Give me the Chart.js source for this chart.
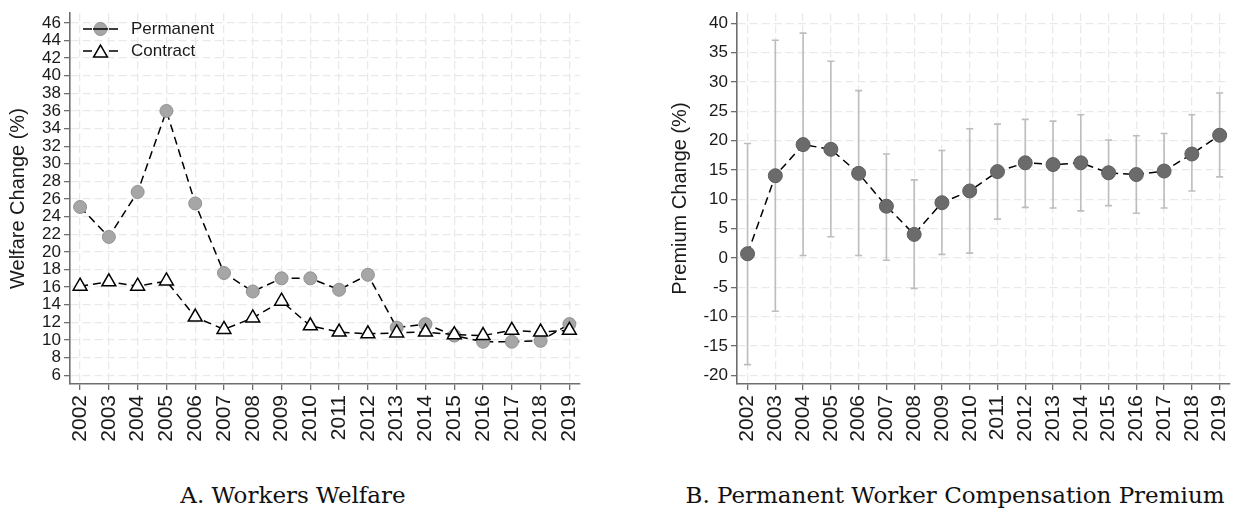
<!DOCTYPE html>
<html><head><meta charset="utf-8">
<script src="https://cdn.jsdelivr.net/npm/chart.js@4.4.1/dist/chart.umd.min.js"></script>
<style>
html,body{margin:0;padding:0;background:#fff;width:1250px;height:514px;overflow:hidden;position:relative}
canvas{position:absolute;top:0}
#c1{left:0}
#c2{left:620px}
.cap{position:absolute;top:482px;font-family:"DejaVu Serif",serif;font-size:23px;color:#111;white-space:nowrap;transform:translateX(-50%)}
</style></head><body>
<canvas id="c1" width="600" height="470"></canvas>
<canvas id="c2" width="630" height="470"></canvas>
<div class="cap" style="left:293px">A. Workers Welfare</div>
<div class="cap" style="left:955px">B. Permanent Worker Compensation Premium</div>
<script>
const years = [2002,2003,2004,2005,2006,2007,2008,2009,2010,2011,2012,2013,2014,2015,2016,2017,2018,2019];
const permanentWelfare = [25.1,21.7,26.8,36.0,25.5,17.6,15.5,17.0,17.0,15.7,17.4,11.4,11.8,10.5,9.8,9.8,9.9,11.8];
const contractWelfare  = [16.1,16.6,16.1,16.7,12.6,11.2,12.5,14.4,11.6,10.9,10.7,10.8,10.9,10.6,10.5,11.1,10.9,11.1];
const premium      = [0.7,14.0,19.3,18.5,14.4,8.8,4.0,9.4,11.4,14.7,16.2,15.9,16.2,14.5,14.2,14.8,17.7,20.9];
const premiumLower = [-18.2,-9.1,0.4,3.6,0.4,-0.4,-5.2,0.6,0.8,6.6,8.6,8.5,8.0,8.9,7.6,8.5,11.4,13.8];
const premiumUpper = [19.5,37.1,38.3,33.5,28.5,17.7,13.3,18.3,22.0,22.8,23.6,23.3,24.4,20.1,20.8,21.2,24.4,28.1];
const welfareTicks = [6,8,10,12,14,16,18,20,22,24,26,28,30,32,34,36,38,40,42,44,46];
const premiumTicks = [-20,-15,-10,-5,0,5,10,15,20,25,30,35,40];
const legendLabels = ['Permanent','Contract'];

const SANS = '"Liberation Sans", Arial, sans-serif';
const TXT = '#1a1a1a';
const GRID = '#e9e9e9';
const AXIS = '#6e6e6e';

function toPts(vals){ return years.map((y,i)=>({x:y,y:vals[i]})); }

function xScale(min,max){
  return {
    type:'linear', min:min, max:max,
    afterBuildTicks:s=>{ s.ticks = years.map(v=>({value:v})); },
    afterFit:s=>{ s.height = 86; },
    ticks:{ autoSkip:false, maxRotation:90, minRotation:90, padding:5, color:TXT,
            font:{family:SANS,size:21}, callback:v=>String(v) },
    grid:{ color:GRID, lineWidth:1.3, tickLength:6, tickColor:AXIS, tickWidth:1.3 },
    border:{ display:true, color:AXIS, width:1.6, dash:[8,4] }
  };
}
function yScale(min,max,tickVals,width,title,titlePad){
  return {
    type:'linear', min:min, max:max,
    afterBuildTicks:s=>{ s.ticks = tickVals.map(v=>({value:v})); },
    afterFit:s=>{ s.width = width; },
    ticks:{ autoSkip:false, padding:3, color:TXT, font:{family:SANS,size:17}, callback:v=>String(v) },
    grid:{ color:GRID, lineWidth:1.3, tickLength:6, tickColor:AXIS, tickWidth:1.3 },
    border:{ display:true, color:AXIS, width:1.6, dash:[8,4] },
    title:{ display:true, text:title, color:TXT, font:{family:SANS,size:20}, padding:{top:titlePad,bottom:0} }
  };
}

const legendPlugin = {
  id:'stataLegend',
  afterDatasetsDraw(chart){
    const ctx = chart.ctx;
    const rows = [
      {label:legendLabels[0], y:29, style:'circle'},
      {label:legendLabels[1], y:51, style:'triangle'}
    ];
    rows.forEach(r=>{
      ctx.save();
      ctx.strokeStyle = '#000'; ctx.lineWidth = 1.5; ctx.setLineDash([]);
      ctx.beginPath(); ctx.moveTo(83,r.y); ctx.lineTo(92,r.y); ctx.moveTo(109,r.y); ctx.lineTo(118,r.y); ctx.stroke();
      if (r.style==='circle'){
        ctx.fillStyle='#a6a6a6'; ctx.strokeStyle='#8f8f8f'; ctx.lineWidth=1;
        ctx.beginPath(); ctx.arc(100.5,r.y,6.5,0,Math.PI*2); ctx.fill(); ctx.stroke();
        ctx.strokeStyle='#000'; ctx.lineWidth=1.5;
        ctx.beginPath(); ctx.moveTo(93,r.y); ctx.lineTo(108,r.y); ctx.stroke();
      } else {
        ctx.fillStyle='#fff'; ctx.strokeStyle='#000'; ctx.lineWidth=1.5;
        Chart.helpers.drawPoint(ctx,{pointStyle:'triangle',radius:8,borderWidth:1.5},100.5,r.y+2);
      }
      ctx.fillStyle = TXT; ctx.font = '17px '+SANS; ctx.textBaseline='middle'; ctx.textAlign='left';
      ctx.fillText(r.label,131,r.y+0.5);
      ctx.restore();
    });
  }
};

const errorBarPlugin = {
  id:'errorBars',
  beforeDatasetsDraw(chart){
    const ctx = chart.ctx, xs = chart.scales.x, ys = chart.scales.y;
    ctx.save();
    ctx.strokeStyle = '#bdbdbd'; ctx.lineWidth = 1.6; ctx.setLineDash([]);
    years.forEach((yr,i)=>{
      const px = xs.getPixelForValue(yr);
      const lo = ys.getPixelForValue(premiumLower[i]);
      const hi = ys.getPixelForValue(premiumUpper[i]);
      ctx.beginPath();
      ctx.moveTo(px,lo); ctx.lineTo(px,hi);
      ctx.moveTo(px-3.5,lo); ctx.lineTo(px+3.5,lo);
      ctx.moveTo(px-3.5,hi); ctx.lineTo(px+3.5,hi);
      ctx.stroke();
    });
    ctx.restore();
  }
};

const common = { responsive:false, animation:false, devicePixelRatio:1,
  plugins:{ legend:{display:false}, tooltip:{enabled:false} } };

new Chart(document.getElementById('c1'),{
  type:'line',
  data:{ datasets:[
    { label:legendLabels[1], data:toPts(contractWelfare), order:0,
      borderColor:'#000', borderWidth:1.5, borderDash:[8,5], fill:false, tension:0,
      pointStyle:'triangle', pointRadius:8, pointBackgroundColor:'#fff', pointBorderColor:'#000', pointBorderWidth:1.5 },
    { label:legendLabels[0], data:toPts(permanentWelfare), order:1,
      borderColor:'#000', borderWidth:1.5, borderDash:[8,5], fill:false, tension:0,
      pointStyle:'circle', pointRadius:6.5, pointBackgroundColor:'#a6a6a6', pointBorderColor:'#919191', pointBorderWidth:1 }
  ]},
  options:Object.assign({}, common, {
    layout:{ padding:{ top:7, right:20, left:0, bottom:0 } },
    scales:{ x:xScale(2001.65,2019.35), y:yScale(5,47.1,welfareTicks,70,'Welfare Change (%)',6) }
  }),
  plugins:[legendPlugin]
});

new Chart(document.getElementById('c2'),{
  type:'line',
  data:{ datasets:[
    { label:'Premium', data:toPts(premium),
      borderColor:'#000', borderWidth:1.5, borderDash:[8,5], fill:false, tension:0,
      pointStyle:'circle', pointRadius:7, pointBackgroundColor:'#6b6b6b', pointBorderColor:'#5e5e5e', pointBorderWidth:1 }
  ]},
  options:Object.assign({}, common, {
    layout:{ padding:{ top:7, right:8, left:0, bottom:0 } },
    scales:{ x:xScale(2001.62,2019.36), y:yScale(-21.5,41.7,premiumTicks,117,'Premium Change (%)',48) }
  }),
  plugins:[errorBarPlugin]
});
</script>
</body></html>
